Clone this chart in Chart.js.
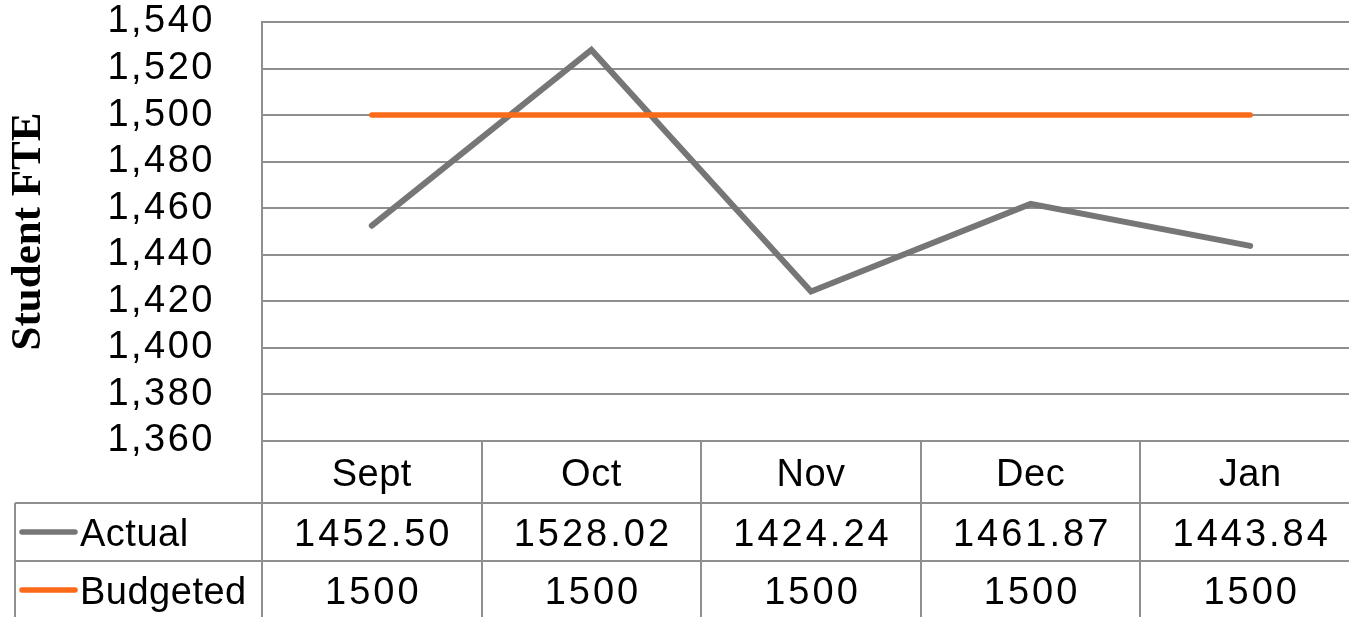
<!DOCTYPE html>
<html>
<head>
<meta charset="utf-8">
<title>Student FTE</title>
<script src="https://cdn.jsdelivr.net/npm/chart.js@4.4.1/dist/chart.umd.min.js"></script>
<style>
  html, body { margin: 0; padding: 0; overflow: hidden; background: #fff; }
</style>
</head>
<body>
<canvas id="fteChart" width="1360" height="617"></canvas>
<script>
const months = ["Sept", "Oct", "Nov", "Dec", "Jan"];
const actual = [1452.50, 1528.02, 1424.24, 1461.87, 1443.84];
const budgeted = [1500, 1500, 1500, 1500, 1500];
const yMin = 1360;
const yMax = 1540;
const yStep = 20;

const gridColor = "#8f8f8f";
const actualColor = "#767676";
const budgetColor = "#fb6a18";
const textFont = "Liberation Sans";

// rows of the data table under the plot
const tableSeries = [
  { label: "Actual", values: actual, color: actualColor, digits: 2 },
  { label: "Budgeted", values: budgeted, color: budgetColor, digits: 0 },
];

// digits in the axis and table are set a bit wider than the plain font
const spacing = {
  id: "spacing",
  beforeDraw(chart) {
    chart.ctx.letterSpacing = "2.5px";
  },
};

const dataTable = {
  id: "dataTable",
  afterDraw(chart) {
    const { ctx, chartArea, scales } = chart;
    const x = scales.x;
    const bottom = chart.height;
    const headTop = chartArea.bottom;
    const rowTops = [headTop + 62, headTop + 120];
    const tableLeft = 15;

    ctx.save();
    ctx.strokeStyle = gridColor;
    ctx.lineWidth = 2;
    ctx.beginPath();
    // left axis continues through the table
    ctx.moveTo(chartArea.left, headTop);
    ctx.lineTo(chartArea.left, bottom);
    for (let i = 0; i < months.length - 1; i++) {
      const bx = Math.round((x.getPixelForValue(i) + x.getPixelForValue(i + 1)) / 2);
      ctx.moveTo(bx, headTop);
      ctx.lineTo(bx, bottom);
    }
    rowTops.forEach((ry) => {
      ctx.moveTo(tableLeft, ry);
      ctx.lineTo(chartArea.right, ry);
    });
    ctx.moveTo(tableLeft, rowTops[0]);
    ctx.lineTo(tableLeft, bottom);
    ctx.stroke();

    ctx.fillStyle = "#000";
    ctx.font = `38px "${textFont}"`;
    ctx.textBaseline = "alphabetic";
    ctx.textAlign = "center";

    // category header
    ctx.letterSpacing = "0.5px";
    months.forEach((m, i) => {
      ctx.fillText(m, x.getPixelForValue(i), headTop + 45);
    });

    tableSeries.forEach((s, r) => {
      const base = rowTops[r] + 43;
      const mid = rowTops[r] + 29;

      ctx.letterSpacing = "3px";
      ctx.textAlign = "center";
      s.values.forEach((v, i) => {
        ctx.fillText(v.toFixed(s.digits), x.getPixelForValue(i) + 1.5, base);
      });

      // legend key
      ctx.strokeStyle = s.color;
      ctx.lineWidth = 5.5;
      ctx.lineCap = "round";
      ctx.beginPath();
      ctx.moveTo(22, mid);
      ctx.lineTo(75, mid);
      ctx.stroke();

      ctx.letterSpacing = "0.5px";
      ctx.textAlign = "left";
      ctx.fillText(s.label, 80, base);
    });

    // axis title
    ctx.letterSpacing = "0px";
    ctx.translate(29, (chartArea.top + chartArea.bottom) / 2);
    ctx.rotate(-Math.PI / 2);
    ctx.textAlign = "center";
    ctx.textBaseline = "middle";
    ctx.font = 'bold 43px "Liberation Serif"';
    ctx.fillText("Student FTE", 0, 0);
    ctx.restore();
  },
};

const ctx = document.getElementById("fteChart").getContext("2d");
const fteChart = new Chart(ctx, {
  type: "line",
  data: {
    labels: months,
    datasets: [
      {
        label: "Actual",
        data: actual,
        borderColor: actualColor,
        borderWidth: 6,
        borderCapStyle: "round",
        borderJoinStyle: "miter",
        pointRadius: 0,
        tension: 0,
        order: 1,
      },
      {
        label: "Budgeted",
        data: budgeted,
        borderColor: budgetColor,
        borderWidth: 5.5,
        borderCapStyle: "round",
        pointRadius: 0,
        tension: 0,
        order: 0,
      },
    ],
  },
  options: {
    responsive: false,
    animation: false,
    layout: { padding: { top: 0, right: 0, bottom: 176, left: 0 } },
    plugins: {
      legend: { display: false },
      tooltip: { enabled: false },
    },
    scales: {
      x: { display: false, offset: true },
      y: {
        min: yMin,
        max: yMax,
        ticks: {
          stepSize: yStep,
          padding: 47,
          color: "#000",
          font: { family: textFont, size: 38 },
        },
        grid: { color: gridColor, lineWidth: 2, drawTicks: false },
        border: { color: gridColor, width: 2 },
        afterFit: (scale) => {
          scale.width = 262;
          // keep only half a label of room above the top tick
          scale.paddingTop = 22;
          scale.paddingBottom = 0;
        },
      },
    },
  },
  plugins: [spacing, dataTable],
});
</script>
</body>
</html>
